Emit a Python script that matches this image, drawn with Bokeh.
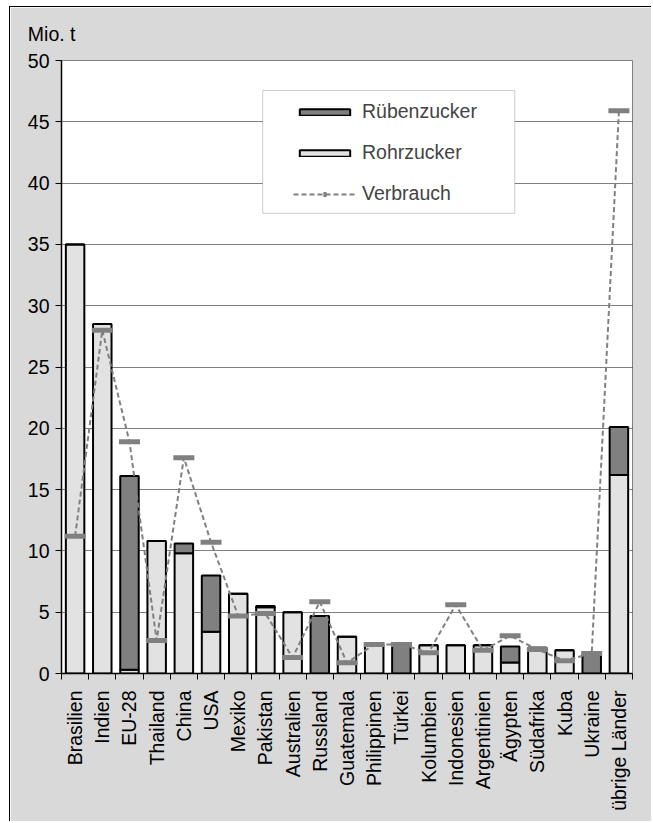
import math
from bokeh.plotting import figure
from bokeh.models import (Range1d, FixedTicker, Legend, LegendItem, BoxAnnotation,
                          ColumnDataSource)
from bokeh.embed import file_html
from bokeh.resources import INLINE

countries = ["Brasilien", "Indien", "EU-28", "Thailand", "China", "USA", "Mexiko",
             "Pakistan", "Australien", "Russland", "Guatemala", "Philippinen", "Türkei",
             "Kolumbien", "Indonesien", "Argentinien", "Ägypten", "Südafrika", "Kuba",
             "Ukraine", "übrige Länder"]
rohrzucker = [35.0, 28.5, 0.3, 10.8, 9.8, 3.4, 6.5, 5.4, 5.0, 0.0, 3.0, 2.3, 0.0,
              2.3, 2.3, 2.3, 0.9, 2.1, 1.9, 0.0, 16.2]
ruebenzucker = [0.0, 0.0, 15.8, 0.0, 0.8, 4.6, 0.0, 0.1, 0.0, 4.7, 0.0, 0.0, 2.4,
                0.0, 0.0, 0.0, 1.3, 0.0, 0.0, 1.55, 3.9]
verbrauch = [11.2, 28.0, 18.9, 2.7, 17.6, 10.7, 4.7, 4.9, 1.3, 5.85, 0.87, 2.37, 2.37,
             1.7, 5.6, 1.9, 3.07, 1.96, 1.05, 1.63, 45.9]
y_ticks = [0, 5, 10, 15, 20, 25, 30, 35, 40, 45, 50]

FONT = "Liberation Sans"
FS = "19.5px"
LIGHT = "#e2e2e2"
DARK = "#808080"
BG = "#d9d9d9"

xpos = [i + 0.5 for i in range(len(countries))]
src = ColumnDataSource(dict(x=xpos, Rohr=rohrzucker, Rueben=ruebenzucker, V=verbrauch))

p = figure(width=642, height=815, output_backend="svg", toolbar_location=None,
           x_range=Range1d(0, len(countries)), y_range=Range1d(0, 50),
           min_border_left=51, min_border_right=20, min_border_top=53,
           min_border_bottom=149)
p.border_fill_color = BG
p.background_fill_color = "white"
p.outline_line_color = "#808080"
p.outline_line_width = 1
p.styles = {"margin-left": "9px", "margin-top": "6px",
            "border-left": "1px solid #000", "border-top": "1px solid #000"}

# unit label as title
p.title.text = "Mio. t"
p.title.align = "left"
p.title.vertical_align = "top"
p.title.offset = -33.7
p.title.standoff = 27
p.title.text_font = FONT
p.title.text_font_size = FS
p.title.text_font_style = "normal"
p.title.text_color = "black"

bars = p.vbar_stack(["Rohr", "Rueben"], x="x", width=0.68, source=src,
                    fill_color=[LIGHT, DARK], line_color="black", line_width=2)
vline = p.line("x", "V", source=src, line_color=DARK, line_width=2, line_dash="5 3")
vmark = p.scatter("x", "V", source=src, marker="dash", size=21, line_width=5,
                  line_color=DARK)

# axes
p.xaxis.ticker = FixedTicker(ticks=xpos, minor_ticks=list(range(len(countries) + 1)))
p.xaxis.major_label_overrides = {x: c for x, c in zip(xpos, countries)}
p.xaxis.major_label_orientation = math.pi / 2
p.xaxis.major_tick_out = 0
p.xaxis.major_tick_in = 0
p.xaxis.minor_tick_out = 6
p.xaxis.minor_tick_in = 0
p.xaxis.minor_tick_line_color = "black"
p.xaxis.major_label_standoff = 11
p.yaxis.ticker = FixedTicker(ticks=y_ticks)
p.yaxis.major_tick_out = 6
p.yaxis.major_tick_in = 0
p.yaxis.minor_tick_line_color = None
p.yaxis.major_label_standoff = 6
for ax in (p.xaxis, p.yaxis):
    ax.axis_line_color = "black"
    ax.axis_line_width = 1.5
    ax.major_tick_line_color = "black"
    ax.major_label_text_font = FONT
    ax.major_label_text_font_size = FS
    ax.major_label_text_color = "black"

p.xgrid.grid_line_color = None
p.ygrid.ticker = FixedTicker(ticks=y_ticks)
p.ygrid.grid_line_color = "black"
p.ygrid.grid_line_dash = "1 1"
p.ygrid.grid_line_width = 1

# legend box + legend
p.add_layout(BoxAnnotation(left=7.40, right=16.67, bottom=37.54, top=47.55,
                           fill_color="white", fill_alpha=1.0,
                           line_color="#555555", line_width=1))
legend = Legend(items=[LegendItem(label="Rübenzucker", renderers=[bars[1]]),
                       LegendItem(label="Rohrzucker", renderers=[bars[0]]),
                       LegendItem(label="Verbrauch", renderers=[vline, vmark])],
                location=(222, 458), margin=0, padding=10, spacing=18,
                glyph_width=63, glyph_height=8, label_height=23, label_standoff=6,
                label_text_font=FONT, label_text_font_size=FS,
                border_line_alpha=0, background_fill_alpha=0)
p.add_layout(legend, "center")

open("out.html", "w").write(file_html(p, INLINE))
